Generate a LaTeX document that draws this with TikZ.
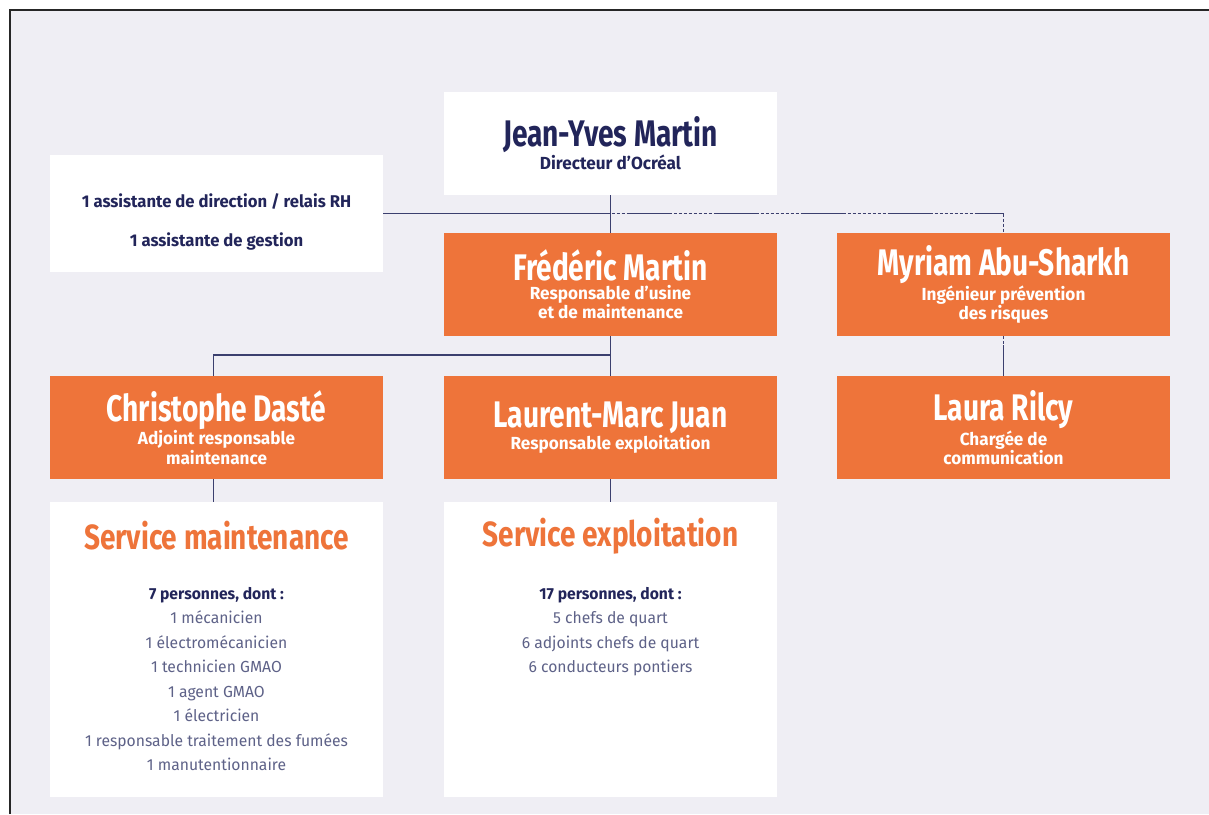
\documentclass[tikz,border=0pt]{standalone}
\usepackage{fontspec}
\setmainfont{Fira Sans}
\newfontfamily\nomfont{Fira Sans}[FakeStretch=0.76]
\newfontfamily\titrefont{Fira Sans}[FakeStretch=0.8]
\newfontfamily\rolefont{Fira Sans}[FakeStretch=0.98]
\newfontfamily\listefont{Fira Sans}[FakeStretch=0.98]
\usetikzlibrary{positioning}
\definecolor{fondgris}{HTML}{EFEEF4}
\definecolor{orangeocr}{HTML}{EE743A}
\definecolor{bleunuit}{HTML}{22255A}
\definecolor{bleulien}{HTML}{3B3F6E}
\definecolor{grisliste}{HTML}{5E6288}
\newcommand{\nom}[1]{{\nomfont\bfseries\fontsize{37}{38}\selectfont #1}}
\begin{document}
\begin{tikzpicture}[x=1pt,y=-1pt,
  boite/.style={inner sep=0pt,minimum width=333,minimum height=103,align=center,
    font=\rolefont\bfseries\fontsize{17.5}{18}\selectfont},
  blanche/.style={boite,fill=white,text=bleunuit},
  chef/.style={boite,fill=orangeocr,text=white},
  lien/.style={draw=bleulien,line width=1.6pt},
  pointilles/.style={lien,dash pattern=on 3pt off 2pt},
  tiretpoint/.style={lien,dash pattern=on 45pt off 2pt on 3pt off 2pt on 3pt off 2pt on 3pt off 2pt on 3pt off 2pt on 3pt off 2pt on 3pt off 2pt on 3pt off 2pt on 3pt off 2pt,dash phase=71pt},
  titreservice/.style={text=orangeocr,font=\titrefont\bfseries\fontsize{35}{36}\selectfont},
  liste/.style={align=center,text=grisliste,font=\listefont\fontsize{16}{24.5}\selectfont}]
\useasboundingbox (0,0) rectangle (1209,814);
\fill[fondgris] (10,10) rectangle (1209,814);
\draw[line width=2.2pt,black!85] (10,814) -- (10,10) -- (1209,10);
% direction
\node[blanche] (jym) at (610.5,143.5) {\nom{Jean-Yves Martin}\\[1pt]Directeur d’Ocréal};
\node[blanche,minimum height=117] (asst) at (216.5,213.5) {};
\node[align=center,text=bleunuit,font=\listefont\bfseries\fontsize{17}{39}\selectfont] (assttxt) at ([yshift=-8pt]asst.center)
  {1 assistante de direction / relais RH\\1 assistante de gestion};
\node[chef] (fm) at (610.5,284.5) {\nom{Frédéric Martin}\\[1pt]Responsable d’usine\\et de maintenance};
\node[chef] (mas) at (1003.5,284.5) {\nom{Myriam Abu-Sharkh}\\[1pt]Ingénieur prévention\\des risques};
% responsables
\node[chef] (cd) at (216.5,427.5) {\nom{Christophe Dasté}\\Adjoint responsable\\maintenance};
\node[chef] (lmj) at (610.5,427.5) {\nom{Laurent-Marc Juan}\\[1pt]Responsable exploitation};
\node[chef] (lr) at (1003.5,427.5) {\nom{Laura Rilcy}\\[1pt]Chargée de\\communication};
% services
\node[blanche,minimum height=295] (smaint) at (216.5,649.5) {};
\node[blanche,minimum height=295] (sexpl) at (610.5,649.5) {};
\node[titreservice] (tmaint) at ([yshift=-34pt]smaint.north) {Service maintenance};
\node[titreservice] (texpl) at ([yshift=-34pt]sexpl.north) {Service exploitation};
\node[liste,anchor=north] (lmaint) at ([yshift=-82pt]smaint.north)
  {\textcolor{bleunuit}{\bfseries 7 personnes, dont :}\\1 mécanicien\\1 électromécanicien\\1 technicien GMAO\\1 agent GMAO\\1 électricien\\1 responsable traitement des fumées\\1 manutentionnaire};
\node[liste,anchor=north] (lexpl) at ([yshift=-82pt]sexpl.north)
  {\textcolor{bleunuit}{\bfseries 17 personnes, dont :}\\5 chefs de quart\\6 adjoints chefs de quart\\6 conducteurs pontiers};
% liaisons
\coordinate (croix) at (asst.east -| jym.south);
\draw[lien] (jym.south) -- (fm.north);
\draw[lien] (asst.east) -- (croix);
\draw[tiretpoint] (croix) -- (croix -| mas.north);
\draw[pointilles] (croix -| mas.north) -- (mas.north);
\draw[lien] (fm.south) -- (lmj.north);
\draw[lien] (fm.south |- 0,355) -| ([xshift=-3pt]cd.north);
\draw[pointilles] (mas.south) -- ++(0,9) coordinate (mlr);
\draw[lien] (mlr) -- (lr.north);
\draw[lien] ([xshift=-3pt]cd.south) -- ([xshift=-3pt]smaint.north);
\draw[lien] (lmj.south) -- (sexpl.north);
\end{tikzpicture}
\end{document}
